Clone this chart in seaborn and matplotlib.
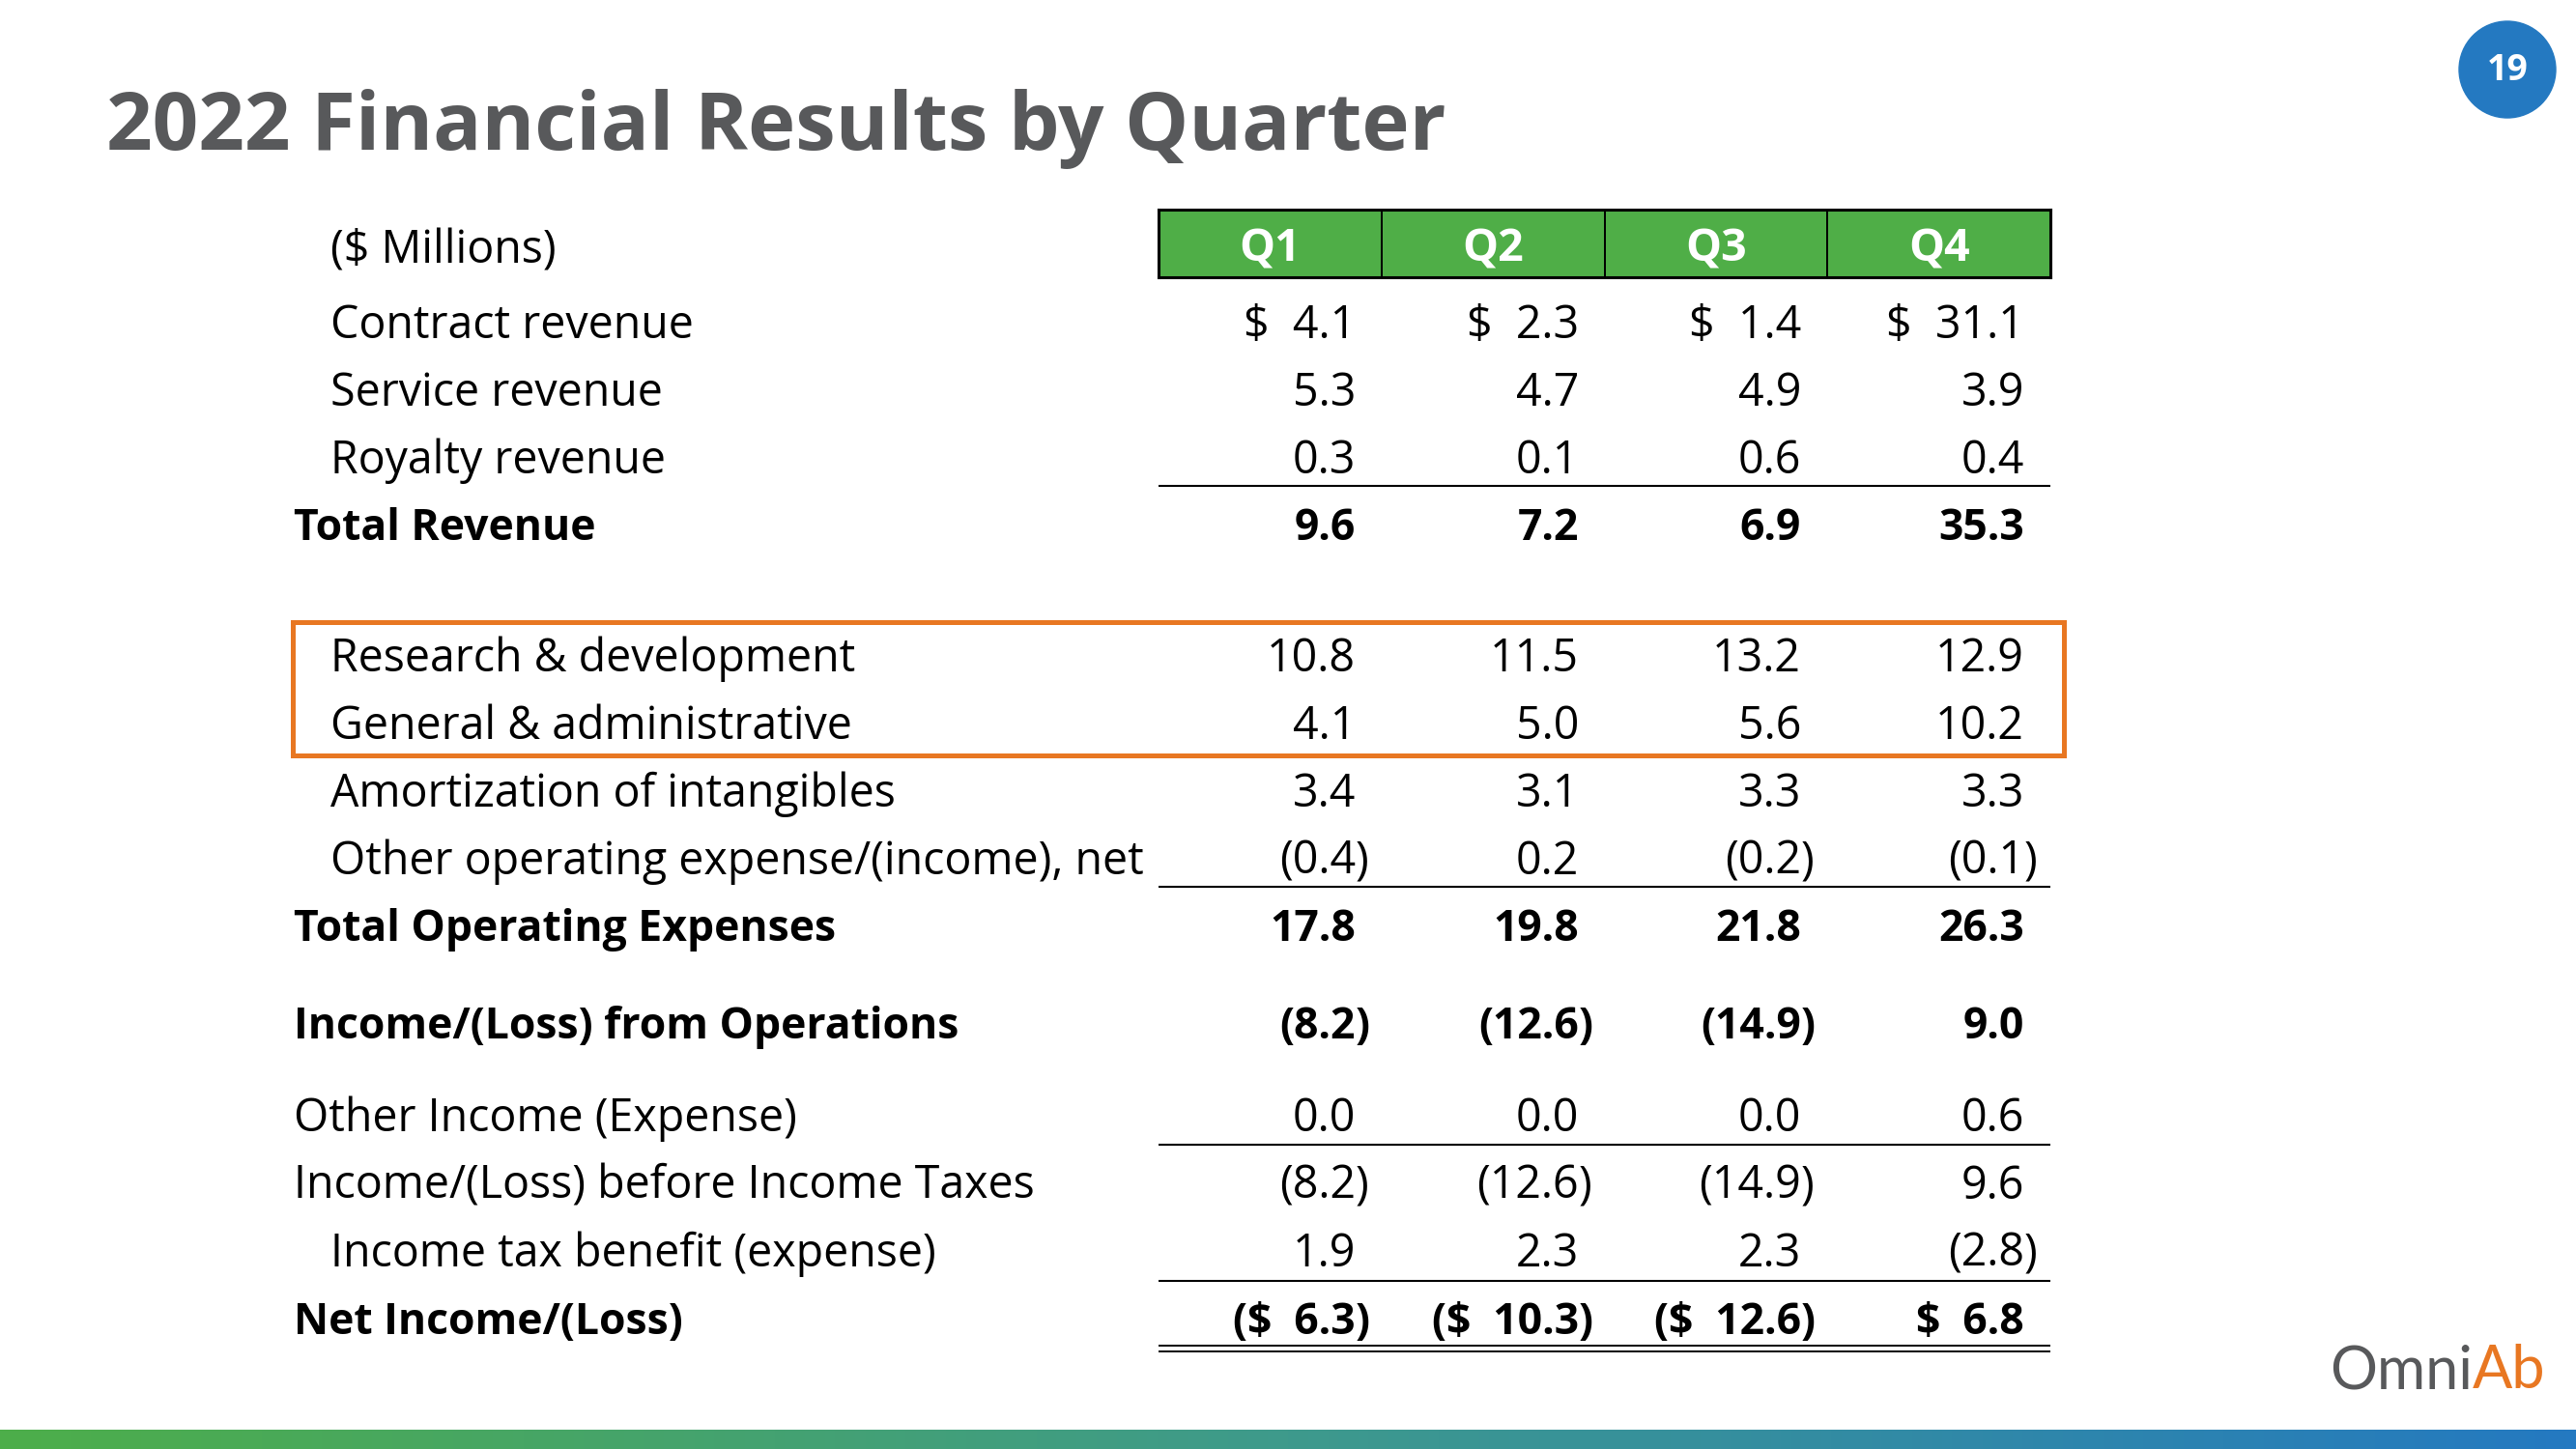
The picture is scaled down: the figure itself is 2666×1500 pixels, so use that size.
import numpy as np
import seaborn as sns
import matplotlib.pyplot as plt
from matplotlib.patches import Rectangle, Circle
from matplotlib.colors import ListedColormap, LinearSegmentedColormap

# data
quarters = ["Q1", "Q2", "Q3", "Q4"]
row_labels = ["Contract revenue", "Service revenue", "Royalty revenue", "Total Revenue",
              "Research & development", "General & administrative", "Amortization of intangibles",
              "Other operating expense/(income), net", "Total Operating Expenses",
              "Income/(Loss) from Operations", "Other Income (Expense)",
              "Income/(Loss) before Income Taxes", "Income tax benefit (expense)", "Net Income/(Loss)"]
q1 = [4.1, 5.3, 0.3, 9.6, 10.8, 4.1, 3.4, -0.4, 17.8, -8.2, 0.0, -8.2, 1.9, -6.3]
q2 = [2.3, 4.7, 0.1, 7.2, 11.5, 5.0, 3.1, 0.2, 19.8, -12.6, 0.0, -12.6, 2.3, -10.3]
q3 = [1.4, 4.9, 0.6, 6.9, 13.2, 5.6, 3.3, -0.2, 21.8, -14.9, 0.0, -14.9, 2.3, -12.6]
q4 = [31.1, 3.9, 0.4, 35.3, 12.9, 10.2, 3.3, -0.1, 26.3, 9.0, 0.6, 9.6, -2.8, 6.8]

# layout / style (pixel coordinates of the slide)
row_y = [333, 403, 473, 542, 678, 748, 818, 888, 957, 1058, 1154, 1224, 1294, 1364]
indent = [1, 1, 1, 0, 1, 1, 1, 1, 0, 0, 0, 0, 1, 0]
bold = [0, 0, 0, 1, 0, 0, 0, 0, 1, 1, 0, 0, 0, 1]
dollar = [1, 0, 0, 0, 0, 0, 0, 0, 0, 0, 0, 0, 0, 1]
col_edges = [1199, 1430, 1661, 1891, 2122]
rule_y = [503, 918, 1185, 1326]

W, H = 2666, 1500
sns.set_theme(style="white")
plt.rcParams["font.family"] = ["Open Sans", "DejaVu Sans"]

fig = plt.figure(figsize=(W / 100, H / 100), dpi=100)
ax = fig.add_axes([0, 0, 1, 1])

# bottom gradient bar
grad = LinearSegmentedColormap.from_list("bar", ["#4DAE4A", "#3E9A8C", "#2479C1"])
ax.imshow(np.linspace(0, 1, 512)[None, :], extent=[0, W, H, 1480], aspect="auto", cmap=grad)
ax.set_xlim(0, W)
ax.set_ylim(H, 0)
ax.axis("off")

TXT = 33.5
TXT_B = 32
ax.text(110, 155, "2022 Financial Results by Quarter", fontsize=60, fontweight="bold",
        color="#58595B", ha="left", va="baseline")

# page number
ax.add_patch(Circle((2595, 72), 50, color="#2479C1"))
ax.text(2595, 73, "19", fontsize=27, fontweight="bold", color="white", ha="center", va="center")

ax.text(342, 272, "($ Millions)", fontsize=TXT, ha="left", va="baseline", color="black")

cols = [q1, q2, q3, q4]
for i, lab in enumerate(row_labels):
    yb = row_y[i] + 17
    w = "bold" if bold[i] else "normal"
    fs = TXT_B if bold[i] else TXT
    ax.text(342 if indent[i] else 304, yb, lab, fontsize=fs, fontweight=w,
            ha="left", va="baseline", color="black")
    for j, c in enumerate(cols):
        v = c[i]
        s = f"{abs(v):.1f}"
        if dollar[i]:
            s = "$  " + s
        xr = col_edges[j + 1] - 27
        if v < 0:
            s = "(" + s
            ax.text(xr, yb, ")", fontsize=fs, fontweight=w, ha="left", va="baseline", color="black")
        ax.text(xr, yb, s, fontsize=fs, fontweight=w, ha="right", va="baseline", color="black")

# rules
ax.hlines(rule_y, col_edges[0], col_edges[-1], color="black", lw=1.5)
ax.hlines([1393, 1398.5], col_edges[0], col_edges[-1], color="black", lw=1.4)

# highlight box
ax.add_patch(Rectangle((303, 644), 1833, 138, fill=False, edgecolor="#E87722", lw=3.6))

# logo
omni = ax.text(2411, 1437, "Omni", fontsize=44, fontfamily="Lato", fontweight="normal",
               color="#58595B", ha="left", va="baseline")
ax.annotate("Ab", xy=(1, 0), xycoords=omni, fontsize=44, fontfamily="Lato",
            fontweight="normal", color="#E87722", ha="left", va="bottom")

# header row as a one-row heatmap
hax = fig.add_axes([col_edges[0] / W, 1 - 287 / H, (col_edges[-1] - col_edges[0]) / W, 70 / H])
sns.heatmap(np.zeros((1, 4)), ax=hax, cmap=ListedColormap(["#4FAE47"]), cbar=False,
            annot=np.array([quarters]), fmt="", linewidths=1.2, linecolor="black",
            annot_kws=dict(color="white", fontweight="bold", fontsize=TXT))
for t in hax.texts:
    t.set_y(t.get_position()[1] + 0.08)
hax.set_xticks([])
hax.set_yticks([])
for sp in hax.spines.values():
    sp.set_visible(True)
    sp.set_color("black")
    sp.set_linewidth(2.2)

fig.savefig("out.png", dpi=100)
